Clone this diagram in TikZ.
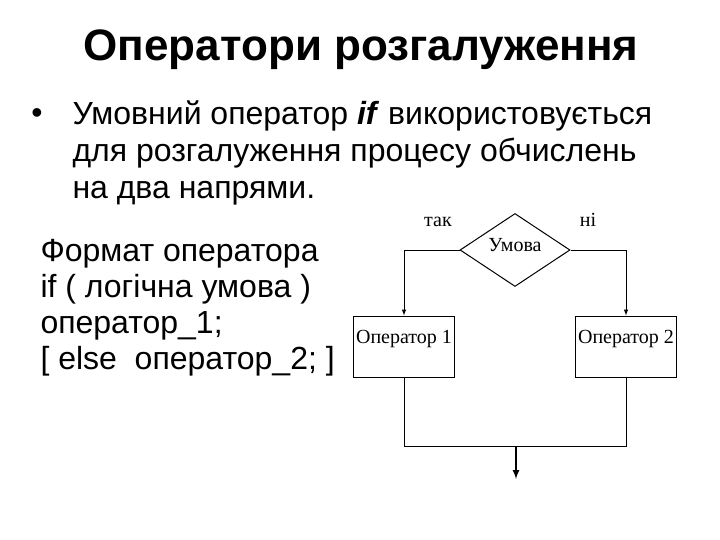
\documentclass[tikz,border=0pt]{standalone}
\usepackage{fontspec}
\setmainfont{Liberation Sans}
\newfontfamily\timesfont{Liberation Serif}
\usetikzlibrary{arrows}
\usetikzlibrary{shapes.geometric}
\usetikzlibrary{positioning}
\tikzset{opbox/.style = {draw, rectangle, minimum width = 100pt, minimum height = 61pt,
    inner sep = 3pt, text height = 24pt, text depth = 31pt,
    font = \timesfont\fontsize{20}{22}\selectfont}}
\tikzset{cond/.style = {draw, diamond, aspect = 1.5, inner sep = 0, minimum width = 110pt,
    minimum height = 73pt, text depth = 10pt, font = \timesfont\fontsize{20}{22}\selectfont}}
\tikzset{tag/.style = {anchor = base, font = \timesfont\fontsize{20}{22}\selectfont}}
\tikzset{flow/.style = {-latex}}

\begin{document}
\begin{tikzpicture}[x = 1pt, y = -1pt, line width = 1pt]
      \useasboundingbox (0, 0) rectangle (720, 540);
      \node [anchor = base] (title) at (361, 61) {\fontsize{44}{48}\bfseries\selectfont Оператори розгалуження};
      \node [anchor = base] (dot) at (37, 124) {\fontsize{32}{36}\selectfont •};
      \node [anchor = north west, align = left, inner sep = 0,
        font = \fontsize{32}{37}\selectfont] (intro) at (72, 100)
        {Умовний оператор \textit{\textbf{if}} використовується\\
         для розгалуження процесу обчислень\\
         на два напрями.};
      \node [anchor = north west, align = left, inner sep = 0,
        font = \fontsize{32}{36}\selectfont] (syntax) at (40, 239)
        {Формат оператора\\
         if ( логічна умова )\\
         оператор\_1;\\
         {[} else\ \ оператор\_2; ]};

      \node [cond] (test) at (515, 250) {Умова};
      \node [opbox] (op1) at (404, 346.5) {Оператор 1};
      \node [opbox] (op2) at (626, 346.5) {Оператор 2};
      \node [tag] (yes) at (438, 226) {так};
      \node [tag] (no) at (588, 226) {ні};
      \coordinate (join) at (516, 446);
      \coordinate (out) at (516, 479);

      \draw [flow] (test.west) -| (op1.north);
      \draw [flow] (test.east) -| (op2.north);
      \draw (op1.south) |- (op2.south |- join) -- (op2.south);
      \draw [flow, line width = 2pt] (join) -- (out);
    \end{tikzpicture}
\end{document}
